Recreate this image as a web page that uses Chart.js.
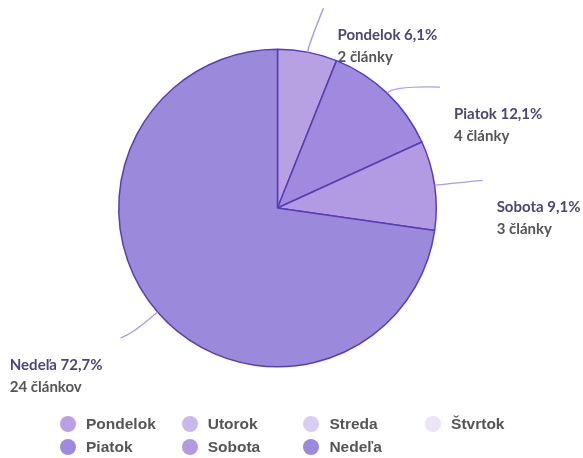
<!DOCTYPE html>
<html>
<head>
<meta charset="utf-8">
<script src="https://cdn.jsdelivr.net/npm/chart.js@4"></script>
<style>
  body { margin: 0; background: #fff; }
  #wrap { position: relative; width: 583px; height: 458px; }
  #legend {
    position: absolute; left: 60px; top: 412px;
    display: grid; grid-template-columns: repeat(4, 121.7px); grid-auto-rows: 23.5px;
    font: bold 15.5px "Liberation Sans", Arial, sans-serif; color: #555;
  }
  #legend .item { display: flex; align-items: center; white-space: nowrap; }
  #legend .dot { width: 16px; height: 16px; border-radius: 50%; margin-right: 10px; flex: none; }
</style>
</head>
<body>
<div id="wrap">
  <canvas id="pie" width="583" height="458"></canvas>
  <div id="legend"></div>
</div>
<script>
// Articles published per weekday
const days = ['Pondelok', 'Utorok', 'Streda', 'Štvrtok', 'Piatok', 'Sobota', 'Nedeľa'];
const articleCounts = [2, 0, 0, 0, 4, 3, 24];
const sliceColors = ['#b8a1e3', '#c9b9ea', '#d9cdf1', '#ebe5f7', '#a08ae0', '#b29be3', '#9b89dc'];

const total = articleCounts.reduce((a, b) => a + b, 0);

function articleWord(n) {
    if (n === 1) return 'článok';
    if (n >= 2 && n <= 4) return 'články';
    return 'článkov';
}

// leader line offsets (from the arc edge) for the slices that get a label
const leaderOffsets = [[16, -44], null, null, null, [53, -6], [48, -5], [-37, 26]];

const sliceLabels = {
    id: 'sliceLabels',
    afterDatasetsDraw(chart) {
        const ctx = chart.ctx;
        const arcs = chart.getDatasetMeta(0).data;
        ctx.save();
        arcs.forEach((arc, i) => {
            const value = articleCounts[i];
            if (!value || !leaderOffsets[i]) return;
            const mid = (arc.startAngle + arc.endAngle) / 2;
            const r = arc.outerRadius;
            const px = arc.x + Math.cos(mid) * r;
            const py = arc.y + Math.sin(mid) * r;
            const ex = px + leaderOffsets[i][0];
            const ey = py + leaderOffsets[i][1];
            // bend near the arc for right-hand labels, near the end for left-hand ones
            const right = leaderOffsets[i][0] >= 0;
            const cx = right ? arc.x + Math.cos(mid) * (r + 10) : ex + 12;
            const cy = right ? arc.y + Math.sin(mid) * (r + 10) : ey - 4;

            ctx.strokeStyle = '#ab9de9';
            ctx.lineWidth = 1.4;
            ctx.beginPath();
            ctx.moveTo(px, py);
            ctx.quadraticCurveTo(cx, cy, ex, ey);
            ctx.stroke();

            const line1 = days[i] + ' ' + (value / total * 100).toFixed(1).replace('.', ',') + '%';
            const line2 = value + ' ' + articleWord(value);
            ctx.font = 'bold 15px Lato, sans-serif';
            ctx.textBaseline = 'middle';
            ctx.textAlign = 'left';
            const w = Math.max(ctx.measureText(line1).width, ctx.measureText(line2).width);
            const tx = right ? ex + 14 : ex - 18 - w;
            ctx.fillStyle = '#4c4672';
            ctx.fillText(line1, tx, ey + 27);
            ctx.fillStyle = '#555555';
            ctx.fillText(line2, tx, ey + 49);
        });
        ctx.restore();
    }
};

new Chart(document.getElementById('pie'), {
    type: 'pie',
    data: {
        labels: days,
        datasets: [{
            data: articleCounts,
            backgroundColor: sliceColors,
            borderColor: '#5a3db4',
            borderWidth: 1.5
        }]
    },
    options: {
        responsive: false,
        animation: false,
        layout: { padding: { left: 118, right: 146, top: 48, bottom: 90 } },
        plugins: {
            legend: { display: false },
            tooltip: { enabled: false }
        }
    },
    plugins: [sliceLabels]
});

// legend in a fixed four-column grid
const legendEl = document.getElementById('legend');
days.forEach((d, i) => {
    const item = document.createElement('div');
    item.className = 'item';
    item.innerHTML = `<span class="dot" style="background:${sliceColors[i]}"></span><span>${d}</span>`;
    legendEl.appendChild(item);
});
</script>
</body>
</html>
